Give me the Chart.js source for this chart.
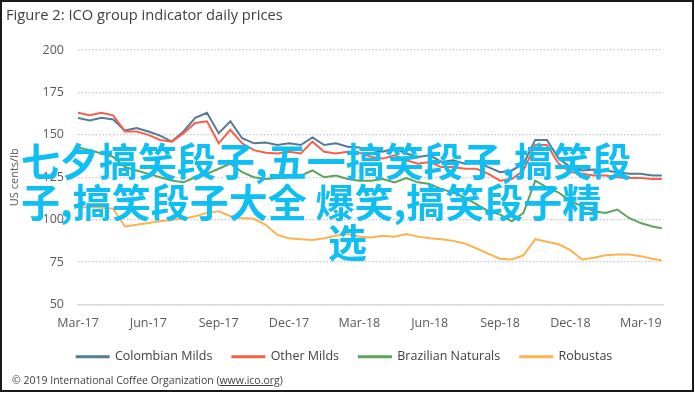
<!DOCTYPE html>
<html>
<head>
<meta charset="utf-8">
<script src="https://cdn.jsdelivr.net/npm/chart.js@4/dist/chart.umd.min.js"></script>
<style>
  body { margin: 0; background: #fff; }
  #wrap { position: relative; width: 695px; height: 394px; overflow: hidden; }
  #frame { position: absolute; left: 0; top: 0; width: 694px; height: 392px; border: 2px solid #1a1a1a; box-sizing: border-box; pointer-events: none; }
  #chart { position: absolute; left: 0; top: 0; }
  .title { position: absolute; left: 6px; top: 4px; font: 14.7px "Open Sans", sans-serif; color: #404040; }
  .foot { position: absolute; left: 12px; top: 373px; font: 10.5px "Open Sans", sans-serif; color: #404040; }
  .foot u { text-decoration: underline; }
  .ov { position: absolute; font: bold 39px/40px "Noto Sans CJK SC", sans-serif; color: #0fbef2; white-space: nowrap; }
</style>
</head>
<body>
<div id="wrap">
  <canvas id="chart" width="695" height="394"></canvas>
  <div class="title">Figure 2: ICO group indicator daily prices</div>
  <div class="foot">© 2019 International Coffee Organization (<u>www.ico.org</u>)</div>
  <div class="ov" style="left:21px; top:139px">七夕搞笑段子,五一搞笑段子,搞笑段</div>
  <div class="ov" style="left:21px; top:180px">子,搞笑段子大全 爆笑,搞笑段子精</div>
  <div class="ov" style="left:328px; top:220px">选</div>
  <div id="frame"></div>
</div>
<script>
// months since Mar-17, every half month
const months = [0, 0.5, 1, 1.5, 2, 2.5, 3, 3.5, 4, 4.5, 5, 5.5, 6, 6.5, 7, 7.5, 8, 8.5, 9, 9.5,
  10, 10.5, 11, 11.5, 12, 12.5, 13, 13.5, 14, 14.5, 15, 15.5, 16, 16.5, 17, 17.5, 18, 18.5, 19, 19.5,
  20, 20.5, 21, 21.5, 22, 22.5, 23, 23.5, 24, 24.5, 24.9];

const colombianMilds = [160, 158.5, 160, 159, 152.5, 154, 152, 149.5, 146, 152, 160, 163, 151, 158, 148, 145, 145.5, 144, 145, 144,
  148.5, 144, 145, 143, 142.5, 141, 140, 142, 139, 137, 138, 134, 135, 133, 134, 131, 128, 129, 133, 147,
  147, 136, 131, 129, 129.5, 129, 128, 127, 127, 126, 126];
const otherMilds = [163, 161.5, 163, 161.5, 152, 152, 150, 147, 146, 151, 157, 158, 145, 153, 145, 141, 139.5, 139, 140, 139,
  146, 140, 139, 140, 139.5, 137, 136, 138, 135, 133, 134, 131, 131, 130, 130, 127, 123, 124, 129, 144,
  144, 133, 128, 127, 126, 126, 125, 124.5, 124.5, 124, 124];
const brazilianNaturals = [142.5, 141, 139, 137, 131, 129, 127, 125, 123, 122, 125, 127, 130, 133, 128, 125, 124, 124.5, 125, 126,
  129, 125, 126, 124, 123, 123, 124, 122, 124.5, 122, 121, 118, 116, 113, 109, 105, 103, 99, 104, 123,
  119, 116, 111, 108, 105, 104, 106, 101, 98, 96, 95];
const robustas = [107, 107.5, 107, 106.5, 96, 97, 98, 99, 100, 100.5, 102, 104, 105, 102, 101, 100.5, 97, 91, 89, 88.5,
  88, 89, 90.5, 91.5, 90, 89.5, 90.5, 90, 91.5, 90, 89, 88.5, 87.5, 86, 83, 80, 77, 76.5, 79, 88.5,
  87, 85.5, 82, 76.5, 77.5, 79, 79.5, 79.5, 78.5, 77, 76];

const tickLabels = ['Mar-17', 'Jun-17', 'Sep-17', 'Dec-17', 'Mar-18', 'Jun-18', 'Sep-18', 'Dec-18', 'Mar-19'];
const tickMonths = [0, 3, 6, 9, 12, 15, 18, 21, 24];

function series(label, values, color, order) {
  return {
    label: label,
    data: values.map((v, i) => ({ x: months[i], y: v })),
    borderColor: color,
    backgroundColor: color,
    borderWidth: 2,
    pointRadius: 0,
    tension: 0,
    order: order
  };
}

const tickFont = { family: 'Open Sans', size: 12.5 };

new Chart(document.getElementById('chart').getContext('2d'), {
  type: 'line',
  data: {
    datasets: [
      series('Colombian Milds', colombianMilds, '#537b96', 3),
      series('Other Milds', otherMilds, '#f5604b', 2),
      series('Brazilian Naturals', brazilianNaturals, '#5ca35b', 1),
      series('Robustas', robustas, '#fdb24e', 0)
    ]
  },
  options: {
    responsive: false,
    animation: false,
    layout: { padding: { top: 50, right: 32, bottom: 21, left: 26 } },
    plugins: {
      legend: {
        position: 'bottom',
        labels: {
          boxWidth: 32,
          boxHeight: 1,
          padding: 20,
          color: '#404040',
          font: { family: 'Open Sans', size: 12.5 },
          sort: (a, b) => a.datasetIndex - b.datasetIndex
        }
      },
      tooltip: { enabled: false }
    },
    scales: {
      x: {
        type: 'linear',
        min: 0,
        max: 24.95,
        grid: { display: false, drawTicks: false },
        border: { display: true, color: '#d9d9d9', width: 1.5 },
        afterBuildTicks: scale => { scale.ticks = tickMonths.map(v => ({ value: v })); },
        afterFit: scale => { scale.height = scale.height - 11; },
        ticks: {
          autoSkip: false,
          maxRotation: 0,
          padding: 11,
          color: '#595959',
          font: tickFont,
          callback: v => tickLabels[tickMonths.indexOf(v)] || ''
        }
      },
      y: {
        min: 50,
        max: 200,
        afterFit: scale => { scale.width = 52; },
        grid: { color: '#c8c8c8', lineWidth: 1.2, drawTicks: false },
        border: { display: false, dash: [1.5, 2] },
        ticks: { stepSize: 25, padding: 14, color: '#595959', font: tickFont },
        title: {
          display: true,
          text: 'US cents/lb',
          color: '#595959',
          font: { family: 'Open Sans', size: 11 },
          padding: { top: -18, bottom: 4 }
        }
      }
    }
  }
});
</script>
</body>
</html>
